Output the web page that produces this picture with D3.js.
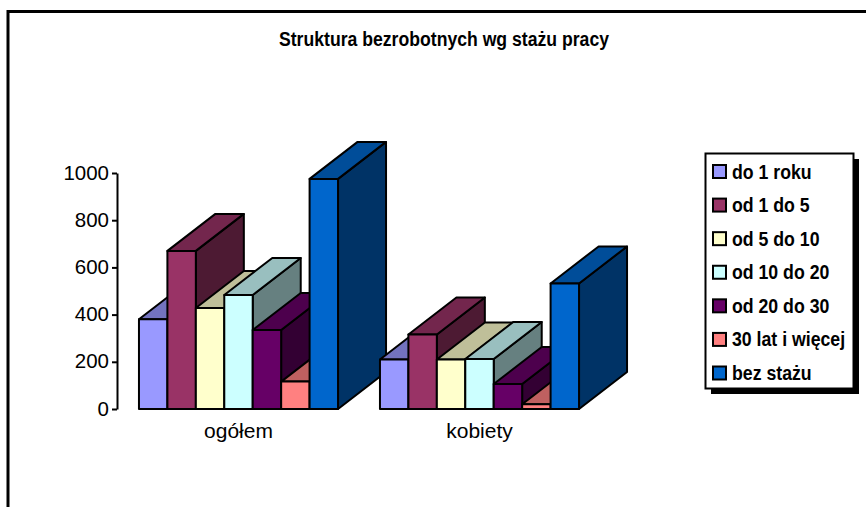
<!DOCTYPE html>
<html>
<head>
<meta charset="utf-8">
<script src="https://cdn.jsdelivr.net/npm/d3@7"></script>
<style>
  html, body { margin: 0; padding: 0; background: #fff; }
  svg { display: block; }
  text { font-family: "Liberation Sans", Arial, sans-serif; fill: #000; }
</style>
</head>
<body>
<svg id="chart" width="866" height="507"></svg>
<script>
// data
const categories = ["ogółem", "kobiety"];
const seriesNames = ["do 1 roku", "od 1 do 5", "od 5 do 10", "od 10 do 20", "od 20 do 30", "30 lat i więcej", "bez stażu"];
const ogolem = [380, 670, 428, 483, 335, 116, 975];
const kobiety = [210, 316, 210, 212, 106, 20, 532];
const colors = ["#9999ff", "#993366", "#ffffcc", "#ccffff", "#660066", "#ff8080", "#0066cc"];
const yTicks = [0, 200, 400, 600, 800, 1000];

const groupValues = [ogolem, kobiety];

const svg = d3.select("#chart");

// outer frame, right and bottom edges fall off the page
svg.append("rect")
    .attr("x", 8).attr("y", 11.5)
    .attr("width", 900).attr("height", 540)
    .attr("fill", "#fff").attr("stroke", "#000").attr("stroke-width", 3);

svg.append("text")
    .attr("x", 444).attr("y", 46)
    .attr("text-anchor", "middle")
    .attr("font-size", 19.5).attr("font-weight", "bold")
    .attr("textLength", 330).attr("lengthAdjust", "spacingAndGlyphs")
    .text("Struktura bezrobotnych wg stażu pracy");

const y = d3.scaleLinear().domain([0, 1000]).range([409, 173]);
const x0 = d3.scaleBand().domain(categories).range([118, 600]).paddingInner(0.174).paddingOuter(0.087);
const x1 = d3.scaleBand().domain(seriesNames).range([0, x0.bandwidth()]);

const depthX = 48, depthY = 37;

const bars = svg.append("g");
categories.forEach((cat, c) => {
    const g = bars.append("g").attr("class", "group");
    seriesNames.forEach((name, i) => {
        const left = x0(cat) + x1(name);
        const right = left + x1.bandwidth();
        const top = y(groupValues[c][i]);
        const base = y(0);
        const col = d3.rgb(colors[i]);
        const dark = (k) => d3.rgb(col.r * k, col.g * k, col.b * k);
        const poly = (pts, fill) => g.append("polygon")
            .attr("points", pts.map(p => p.join(",")).join(" "))
            .attr("fill", fill)
            .attr("stroke", "#000").attr("stroke-width", 2).attr("stroke-linejoin", "round");
        // side, top, front - painted left to right so the next bar covers this one
        poly([[right, base], [right + depthX, base - depthY], [right + depthX, top - depthY], [right, top]], dark(0.5));
        poly([[left, top], [left + depthX, top - depthY], [right + depthX, top - depthY], [right, top]], dark(0.75));
        poly([[left, base], [left, top], [right, top], [right, base]], col);
    });
});

const axis = svg.append("g")
    .attr("transform", "translate(117,0)")
    .call(d3.axisLeft(y).tickValues(yTicks).tickSize(5).tickSizeOuter(0).tickPadding(3).tickFormat(d3.format("d")));
axis.selectAll("path, line").attr("stroke", "#000").attr("stroke-width", 2);
axis.selectAll("text").attr("font-size", 20.5).attr("font-family", null).attr("fill", "#000").attr("dy", "0.3em");

svg.append("g").selectAll("text")
    .data(categories)
    .join("text")
    .attr("x", d => x0(d) + x0.bandwidth() / 2)
    .attr("y", 438)
    .attr("text-anchor", "middle")
    .attr("font-size", 21)
    .text(d => d);

// legend
const legendRow = d3.scalePoint().domain(seriesNames).range([171.5, 373]);
svg.append("rect").attr("x", 711).attr("y", 159).attr("width", 148).attr("height", 235).attr("fill", "#000");
svg.append("rect").attr("x", 705.5).attr("y", 153.5).attr("width", 148).attr("height", 235)
    .attr("fill", "#fff").attr("stroke", "#000").attr("stroke-width", 2);
const legend = svg.append("g").selectAll("g")
    .data(seriesNames)
    .join("g")
    .attr("transform", d => `translate(0,${legendRow(d)})`);
legend.append("rect")
    .attr("x", 713).attr("y", -6.5).attr("width", 13).attr("height", 13)
    .attr("fill", (d, i) => colors[i])
    .attr("stroke", "#000").attr("stroke-width", 2);
legend.append("text")
    .attr("transform", "translate(732,7) scale(0.885,1)")
    .attr("font-size", 20).attr("font-weight", "bold")
    .text(d => d);
</script>
</body>
</html>
